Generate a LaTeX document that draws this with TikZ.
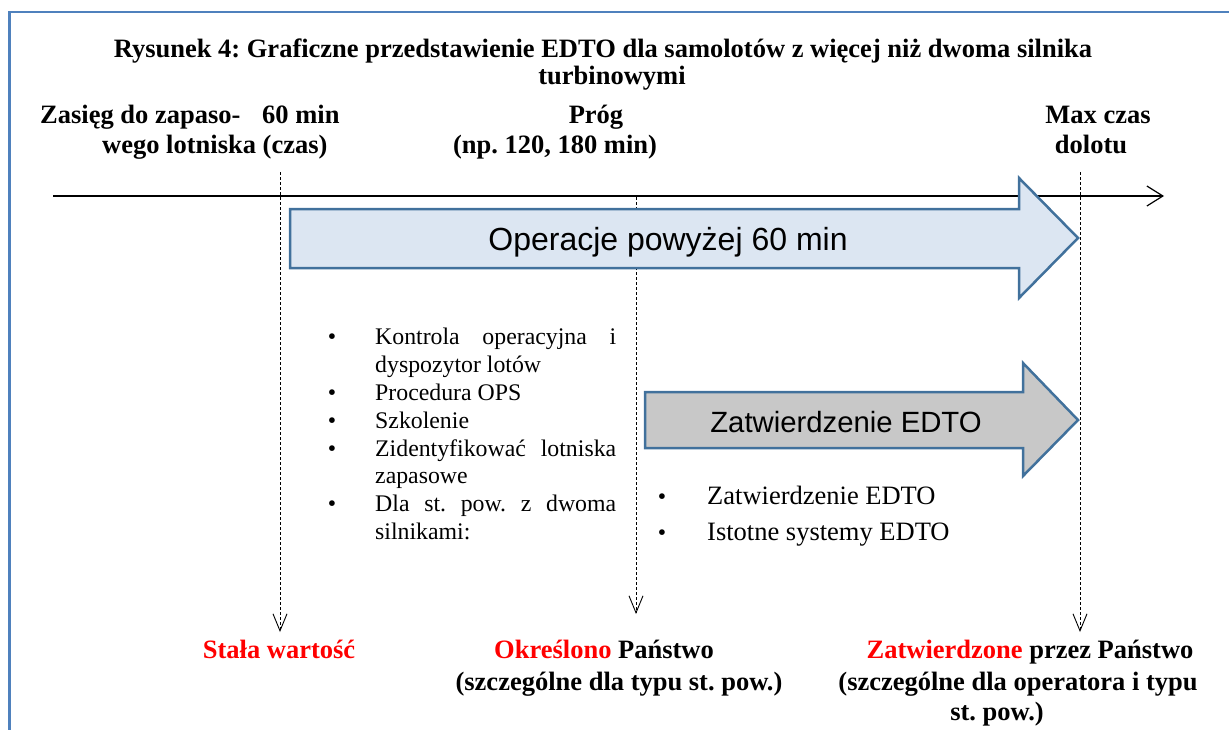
\documentclass[tikz,border=0pt]{standalone}
\usepackage{fontspec}
\setmainfont{Liberation Serif}
\newfontfamily\arrowfont{Liberation Sans}
\usetikzlibrary{arrows.meta}
\definecolor{framec}{RGB}{79,129,189}
\definecolor{arrowline}{RGB}{65,113,156}
\definecolor{bluefill}{RGB}{220,230,242}
\definecolor{grayfill}{RGB}{200,200,200}
\definecolor{redtxt}{RGB}{255,0,0}
\frenchspacing
\begin{document}
\begin{tikzpicture}[x=1pt,y=-1pt,
 hdr/.style={font=\fontsize{26.5}{30}\selectfont\bfseries, inner sep=0pt},
 ttl/.style={font=\fontsize{26.5}{30}\selectfont\bfseries, inner sep=0pt},
 lst/.style={font=\fontsize{23.8}{28}\selectfont, inner sep=0pt, anchor=base west},
 lstr/.style={font=\fontsize{26.5}{30}\selectfont, inner sep=0pt, anchor=base west},
 bul/.style={font=\fontsize{23.8}{28}\selectfont, inner sep=0pt, anchor=base},
 guide/.style={draw=black, line width=0.9pt, dash pattern=on 3pt off 2pt, -{Straight Barb[length=17pt,width=14pt,line width=0.9pt]}},
 bigarrow/.style={draw=arrowline, line width=2.5pt, line join=miter},
]
\useasboundingbox (0,0) rectangle (1229,729);
\clip (0,0) rectangle (1229,729);
% frame
\draw[framec, line width=2.5pt] (9.5,745) -- (9.5,12) -- (1245,12);

% title
\node[ttl, anchor=base] (title1) at (603,57) {Rysunek 4: Graficzne przedstawienie EDTO dla samolotów z więcej niż dwoma silnika};
\node[ttl, anchor=base] (title2) at (612,84) {turbinowymi};

% headers
\node[hdr, anchor=base west] (hA1) at (40,123) {Zasięg do zapaso-};
\node[hdr, anchor=base west] (hA2) at (262,123) {60 min};
\node[hdr, anchor=base west] (hA3) at (102,153) {wego lotniska (czas)};
\node[hdr, anchor=base] (hB1) at (596,123) {Próg};
\node[hdr, anchor=base] (hB2) at (555,153) {(np. 120, 180 min)};
\node[hdr, anchor=base] (hC1) at (1098,123) {Max czas};
\node[hdr, anchor=base] (hC2) at (1091,153) {dolotu};

% axis
\coordinate (axS) at (53,196);
\coordinate (axE) at (1164,196);
\draw[line width=1.2pt, -{Straight Barb[length=16pt,width=20pt,line width=1.2pt]}] (axS) -- (axE);

% guides
\coordinate (g1t) at (280,172); \coordinate (g1b) at (280,632);
\coordinate (g2t) at (636,197); \coordinate (g2b) at (636,614);
\coordinate (g3t) at (1080,172); \coordinate (g3b) at (1080,632);
\draw[guide] (g1t) -- (g1b);
\draw[guide] (g2t) -- (g2b);
\draw[guide] (g3t) -- (g3b);

% big blue arrow
\draw[bigarrow, fill=bluefill] (290,209) -- (1019,209) -- (1019,178) -- (1078,238) -- (1019,298) -- (1019,268) -- (290,268) -- cycle;
\node[font=\arrowfont\fontsize{32}{36}\selectfont, inner sep=0pt, anchor=base] (opText) at (668,250) {Operacje powyżej 60 min};

% gray arrow
\draw[bigarrow, fill=grayfill] (645,392) -- (1023,392) -- (1023,363) -- (1078,420) -- (1023,476) -- (1023,448) -- (645,448) -- cycle;
\node[font=\arrowfont\fontsize{29.3}{33}\selectfont, inner sep=0pt, anchor=base] (edText) at (846,432) {Zatwierdzenie EDTO};

% left list
\node[bul] (b1) at (332,344) {\textbullet};
\node[lst] (l1) at (375,344) {\makebox[241pt][s]{Kontrola operacyjna i}};
\node[lst] (l2) at (375,372) {dyspozytor lotów};
\node[bul] (b3) at (332,400) {\textbullet};
\node[lst] (l3) at (375,400) {Procedura OPS};
\node[bul] (b4) at (332,428) {\textbullet};
\node[lst] (l4) at (375,428) {Szkolenie};
\node[bul] (b5) at (332,456) {\textbullet};
\node[lst] (l5) at (375,456) {\makebox[241pt][s]{Zidentyfikować lotniska}};
\node[lst] (l6) at (375,483) {zapasowe};
\node[bul] (b7) at (332,511) {\textbullet};
\node[lst] (l7) at (375,511) {\makebox[241pt][s]{Dla st. pow. z dwoma}};
\node[lst] (l8) at (375,539) {silnikami:};

% right list
\node[bul] (rb1) at (662,504) {\textbullet};
\node[lstr] (r1) at (707,504) {Zatwierdzenie EDTO};
\node[bul] (rb2) at (662,540) {\textbullet};
\node[lstr] (r2) at (707,540) {Istotne systemy EDTO};

% bottom labels
\node[hdr, anchor=base, text=redtxt] (bA) at (279,658) {Stała wartość};
\node[hdr, anchor=base] (bB1) at (604,658) {\textcolor{redtxt}{Określono} Państwo};
\node[hdr, anchor=base] (bB2) at (619,690) {(szczególne dla typu st. pow.)};
\node[hdr, anchor=base] (bC1) at (1030,658) {\textcolor{redtxt}{Zatwierdzone} przez Państwo};
\node[hdr, anchor=base] (bC2) at (1018,690) {(szczególne dla operatora i typu};
\node[hdr, anchor=base] (bC3) at (997,720) {st. pow.)};
\end{tikzpicture}
\end{document}
